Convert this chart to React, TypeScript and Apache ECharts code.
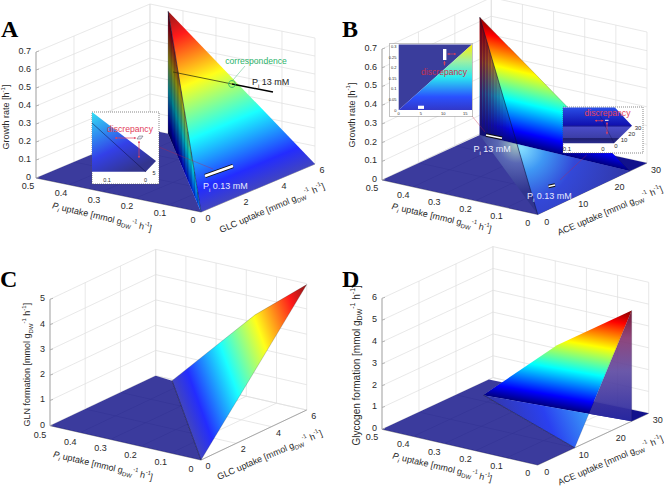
import React, { useEffect, useRef } from "react";
import * as echarts from "echarts";

// ---------- axis ticks ----------
const piTicks = [0, 0.1, 0.2, 0.3, 0.4, 0.5];
const glcTicks = [0, 2, 4, 6];
const aceTicks = [0, 10, 20, 30];
const growthTicks = [0, 0.1, 0.2, 0.3, 0.4, 0.5, 0.6, 0.7];
const glnTicks = [0, 1, 2, 3, 4, 5];
const glycogenTicks = [0, 1, 2, 3, 4, 5, 6];

// ---------- surface vertices [Pi uptake, substrate uptake, output] ----------
const aPeak = [0.445, 6, 0.68];
const aBase = [0.445, 6, 0];
const aOrigin = [0, 0, 0];
const aFar = [0, 6, 0];
const aFloor = [[0.5, 0, 0], [0.5, 6, 0], [0.445, 6, 0], [0, 0, 0]];
const aFanStops = [0, 0.1, 0.2, 0.3, 0.4, 0.5, 0.6, 0.7, 0.8, 0.9, 1];
const aFanShade = [0.55, 0.5, 0.46, 0.42, 0.36, 0.3, 0.24, 0.18, 0.12, 0.06];

const bPeak = [0.495, 26.4, 0.63];
const bBase = [0.495, 26.4, 0];
const bOrigin = [0, 0, 0];
const bFar = [0, 25.3, 0];
const bFloor = [[0.5, 0, 0], [0.495, 26.4, 0], [0, 25.3, 0], [0, 0, 0]];
const bBackStrip = [[0.495, 26.4, 0], [0.5, 30, 0], [0, 30, 0], [0, 25.3, 0]];
const bFanStops = [0, 0.08, 0.16, 0.24, 0.32, 0.4, 0.48, 0.56, 0.64, 0.72, 0.8, 0.9, 1];
const bFanAlpha = [0.95, 0.9, 0.84, 0.76, 0.68, 0.6, 0.52, 0.44, 0.36, 0.28, 0.18, 0.08];

const cFloor = [[0.5, 0, 0], [0.5, 6, 0], [0.44, 5.9, 0], [0, 0, 0]];
const cSurface = [[0, 0, 0], [0.44, 5.9, 0], [0.171, 6, 3.3], [0, 6, 4.96]];

const dQ1 = [0.44, 22.3, 0];
const dQ2 = [0.24, 25.4, 2.7];
const dQ3 = [0, 25.4, 5.07];
const dQ4 = [0, 25.4, 0];
const dQ5 = [0, 10, 0];
const dBackLeft = [0.5, 28.9, 0];
const dBackRight = [0, 30, 0];
const dFloorStart = [0.5, 0, 0];
const dOrigin = [0, 0, 0];

// ---------- inset ticks ----------
const insetBLeftY = [0, 0.05, 0.1, 0.15, 0.2, 0.25, 0.3];
const insetBLeftX = [0, 5, 10, 15];

// ---------- colours ----------
const jet: [number, string][] = [
  [0, "#00007f"], [0.11, "#0000ff"], [0.36, "#00ffff"], [0.62, "#ffff00"], [0.87, "#ff0000"], [1, "#7f0000"],
];
const jetLifted: [number, string][] = [
  [0, "#2c30b8"], [0.11, "#0a14ff"], [0.36, "#00ffff"], [0.62, "#ffff00"], [0.87, "#ff0000"], [1, "#7f0000"],
];
const wallStops: [number, string][] = [
  [0, "rgba(40,40,160,0.95)"], [0.45, "rgba(90,70,160,0.9)"], [0.75, "rgba(130,50,110,0.9)"], [1, "rgba(110,10,40,0.95)"],
];
const FONT = "'Liberation Sans', Arial, sans-serif";
const RED = "#e2405c";
const GREEN = "#2db36b";
const TXT = "#2a2a2a";
const GRID = "#dedede";
const AXIS = "#a8a8a8";
const FLOOR = "rgba(0,0,127,0.77)";

type P = number[];
interface Panel {
  o: P; xv: P; yv: P; zv: P; xm: number; ym: number; zm: number;
  xt: number[]; yt: number[]; zt: number[];
  xo: P; yo: P; zo: P;
}
const panelA: Panel = { o: [201, 212], xv: [-165, -34], yv: [114, -48], zv: [0, -126], xm: 0.5, ym: 6, zm: 0.7, xt: piTicks, yt: glcTicks, zt: growthTicks, xo: [-8, 8], yo: [7, 6], zo: [-5, -1] };
const panelB: Panel = { o: [537.7, 214.5], xv: [-155.7, -34.5], yv: [109.3, -51.5], zv: [0, -131], xm: 0.5, ym: 30, zm: 0.7, xt: piTicks, yt: aceTicks, zt: growthTicks, xo: [-10, 8], yo: [9, 7], zo: [-5, -1] };
const panelC: Panel = { o: [201, 460], xv: [-151, -34.3], yv: [105.7, -50], zv: [0, -126.4], xm: 0.5, ym: 6, zm: 5, xt: piTicks, yt: glcTicks, zt: glnTicks, xo: [-10, 9], yo: [7, 6], zo: [-5, -1] };
const panelD: Panel = { o: [537.7, 465], xv: [-155.7, -35.7], yv: [111, -51.7], zv: [0, -131], xm: 0.5, ym: 30, zm: 6, xt: piTicks, yt: aceTicks, zt: glycogenTicks, xo: [-10, 8], yo: [9, 7], zo: [-5, -1] };

const proj = (p: Panel, v: number[]): P => {
  const a = v[0] / p.xm, b = v[1] / p.ym, c = v[2] / p.zm;
  return [p.o[0] + a * p.xv[0] + b * p.yv[0] + c * p.zv[0], p.o[1] + a * p.xv[1] + b * p.yv[1] + c * p.zv[1]];
};
const lerp = (a: P, b: P, t: number): P => [a[0] + (b[0] - a[0]) * t, a[1] + (b[1] - a[1]) * t];
const meet = (a: P, b: P, c: P, d: P): P => {
  const r = [b[0] - a[0], b[1] - a[1]], s = [d[0] - c[0], d[1] - c[1]];
  const t = ((c[0] - a[0]) * s[1] - (c[1] - a[1]) * s[0]) / (r[0] * s[1] - r[1] * s[0]);
  return lerp(a, b, t);
};
const hex = (h: string) => [parseInt(h.slice(1, 3), 16), parseInt(h.slice(3, 5), 16), parseInt(h.slice(5, 7), 16)];
const blend = (h: string, mix: number, base = 255) => {
  const c = hex(h).map((v) => Math.round(v * (1 - mix) + base * mix));
  return `rgb(${c[0]},${c[1]},${c[2]})`;
};
const stops = (src: [number, string][], f: (c: string) => string) => src.map(([offset, c]) => ({ offset, color: f(c) }));
const linear = (a: P, b: P, st: any[]) => new echarts.graphic.LinearGradient(a[0], a[1], b[0], b[1], st, true as any);

// linear gradient whose isolines follow a value that is linear over a screen triangle
const planeGrad = (A: P, B: P, C: P, vals: number[], vmax: number, st: any[]) => {
  const d1 = [B[0] - A[0], B[1] - A[1]], d2 = [C[0] - A[0], C[1] - A[1]];
  const s1 = vals[1] - vals[0], s2 = vals[2] - vals[0];
  const det = d1[0] * d2[1] - d1[1] * d2[0];
  const gx = (s1 * d2[1] - s2 * d1[1]) / det, gy = (d1[0] * s2 - d2[0] * s1) / det;
  const n = gx * gx + gy * gy;
  const p0 = [A[0] + (gx * (0 - vals[0])) / n, A[1] + (gy * (0 - vals[0])) / n];
  const p1 = [A[0] + (gx * (vmax - vals[0])) / n, A[1] + (gy * (vmax - vals[0])) / n];
  return linear(p0, p1, st);
};

// ---------- element helpers ----------
type C = (p: P) => P;
const poly = (c: C, pts: P[], fill: any, extra: any = {}) => ({
  type: "polygon", silent: true, shape: { points: pts.map(c) }, style: { fill, ...extra },
});
const seg = (c: C, a: P, b: P, stroke: string, lineWidth = 0.7, extra: any = {}) => {
  const A = c(a), B = c(b);
  return { type: "line", silent: true, shape: { x1: A[0], y1: A[1], x2: B[0], y2: B[1] }, style: { stroke, lineWidth, fill: "none", ...extra } };
};
const txt = (c: C, p: P, text: string, opt: any = {}) => {
  const A = c(p);
  const { rotation, ...style } = opt;
  return {
    type: "text", silent: true, x: A[0], y: A[1], rotation: ((rotation || 0) * Math.PI) / 180,
    style: { text, fontFamily: FONT, fontSize: 9, fill: TXT, align: "center", verticalAlign: "middle", ...style },
  };
};
const richStyles = (fill: string, fs = 9) => {
  const base = { fontFamily: FONT, fill, lineHeight: fs + 4 };
  return {
    n: { ...base, fontSize: fs },
    i: { ...base, fontSize: fs, fontStyle: "italic" },
    si: { ...base, fontSize: fs - 3, fontStyle: "italic", verticalAlign: "bottom" },
    sb: { ...base, fontSize: fs - 3, verticalAlign: "bottom" },
    sp: { ...base, fontSize: fs - 3, verticalAlign: "top" },
  };
};
const rich = (c: C, p: P, text: string, opt: any = {}) => {
  const fill = opt.fill || TXT;
  return txt(c, p, text, { ...opt, rich: richStyles(fill, opt.fontSize || 9) });
};
const UNITS = "{n|[mmol g}{sb|DW}{sp|-1}{n| h}{sp|-1}{n|]}";
const piTitle = `{i|P}{si|i}{n| uptake }${UNITS}`;
const glcTitle = `{n|GLC uptake }${UNITS}`;
const aceTitle = `{n|ACE uptake }${UNITS}`;
const arrow = (c: C, a: P, b: P, col = RED) => {
  const dx = b[0] - a[0], dy = b[1] - a[1], L = Math.hypot(dx, dy), ux = dx / L, uy = dy / L, h = 2;
  const head = (q: P, s: number) => poly(c, [q, [q[0] - s * ux * h + uy * 1.1, q[1] - s * uy * h - ux * 1.1], [q[0] - s * ux * h - uy * 1.1, q[1] - s * uy * h + ux * 1.1]], col);
  return [seg(c, a, b, col, 0.7), head(a, -1), head(b, 1)];
};
const whiteBar = (c: C, a: P, b: P, w = 3.4) => [
  seg(c, a, b, "#111", w + 1, { lineCap: "butt" }),
  seg(c, a, b, "#fff", w - 1, { lineCap: "butt" }),
];

const layer = (build: (c: C) => any[]) => ({
  type: "custom", coordinateSystem: "cartesian2d", data: [[0, 0]], silent: true, clip: false,
  renderItem: (_: any, api: any) => ({ type: "group", children: build((p: P) => api.coord(p)) }),
});

// walls, floor grid, axes and tick labels of one box
const boxBack = (p: Panel) => layer((c) => {
  const out: any[] = [];
  const pt = (x: number, y: number, z: number) => proj(p, [x, y, z]);
  p.zt.forEach((z) => {
    out.push(seg(c, pt(p.xm, 0, z), pt(p.xm, p.ym, z), GRID));
    out.push(seg(c, pt(p.xm, p.ym, z), pt(0, p.ym, z), GRID));
  });
  p.yt.forEach((y) => {
    out.push(seg(c, pt(p.xm, y, 0), pt(p.xm, y, p.zm), GRID));
    out.push(seg(c, pt(0, y, 0), pt(p.xm, y, 0), GRID));
  });
  p.xt.forEach((x) => {
    out.push(seg(c, pt(x, p.ym, 0), pt(x, p.ym, p.zm), GRID));
    out.push(seg(c, pt(x, 0, 0), pt(x, p.ym, 0), GRID));
  });
  out.push(seg(c, pt(p.xm, 0, 0), pt(p.xm, 0, p.zm), AXIS, 1));
  out.push(seg(c, pt(p.xm, 0, 0), pt(0, 0, 0), AXIS, 1));
  out.push(seg(c, pt(0, 0, 0), pt(0, p.ym, 0), AXIS, 1));
  return out;
});
const boxLabels = (p: Panel, xTitle: any, yTitle: any, zTitle: any, letter: any) => layer((c) => {
  const out: any[] = [];
  const fmt = (v: number) => String(v);
  p.xt.forEach((x) => {
    const q = proj(p, [x, 0, 0]);
    out.push(txt(c, [q[0] + p.xo[0], q[1] + p.xo[1]], fmt(x)));
  });
  p.yt.forEach((y) => {
    const q = proj(p, [0, y, 0]);
    out.push(txt(c, [q[0] + p.yo[0], q[1] + p.yo[1]], fmt(y)));
  });
  p.zt.forEach((z) => {
    const q = proj(p, [p.xm, 0, z]);
    out.push(seg(c, q, [q[0] + 3, q[1] - 1], AXIS, 0.8));
    out.push(txt(c, [q[0] + p.zo[0], q[1] + p.zo[1]], fmt(z), { align: "right" }));
  });
  out.push(rich(c, xTitle.at, xTitle.text, { rotation: -13.2 }));
  out.push(rich(c, yTitle.at, yTitle.text, { rotation: 23 }));
  out.push(rich(c, zTitle.at, zTitle.text, { rotation: 90, fontSize: zTitle.fontSize || 9 }));
  out.push(txt(c, letter.at, letter.text, { fontFamily: "'Liberation Serif', 'Times New Roman', serif", fontWeight: "bold", fontSize: 24, fill: "#000", align: "left", verticalAlign: "alphabetic" }));
  return out;
});

// ---------- panel A ----------
const layersA = () => {
  const p = panelA;
  const P0 = proj(p, aPeak), B0 = proj(p, aBase), O = proj(p, aOrigin), R = proj(p, aFar);
  return [
    boxBack(p),
    layer((c) => [poly(c, aFloor.map((v) => proj(p, v)), FLOOR)]),
    layer((c) => [poly(c, [P0, O, R], planeGrad(P0, O, R, [aPeak[2], 0, 0], aPeak[2], stops(jetLifted, (k) => blend(k, 0.1))))]),
    layer((c) => {
      const wall = planeGrad(P0, B0, O, [aPeak[2], 0, 0.14], aPeak[2], stops(jet, (k) => k));
      const out: any[] = [poly(c, [P0, B0, O], wall)];
      aFanShade.forEach((sh, i) => {
        const a = lerp(B0, O, aFanStops[i]), b = lerp(B0, O, aFanStops[i + 1]);
        const ta = lerp(P0, O, aFanStops[i]), tb = lerp(P0, O, aFanStops[i + 1]);
        out.push(poly(c, [a, b, tb, ta], `rgba(0,0,30,${sh})`));
        out.push(seg(c, a, [a[0], ta[1]], "rgba(0,0,40,0.5)", 0.5));
      });
      out.push(seg(c, P0, O, "rgba(10,20,60,0.8)", 0.7));
      return out;
    }),
    layer((c) => [
      seg(c, [159, 147], [213, 169], "rgba(200,30,60,0.55)", 0.6),
      seg(c, [173, 72], [232, 84], "rgba(50,50,10,0.85)", 0.9),
      seg(c, [232, 84], [273, 92], "#000", 1.5),
      { type: "circle", silent: true, shape: (() => { const q = c([232, 84]); return { cx: q[0], cy: q[1], r: 3.4 }; })(), style: { fill: "none", stroke: GREEN, lineWidth: 0.9 } },
      seg(c, [233, 80], [245, 66], "rgba(45,179,107,0.7)", 0.6),
      txt(c, [256, 61], "correspondence", { fill: GREEN, fontSize: 8.6 }),
      rich(c, [252, 82], "{n|P}{sb|i}{n| 13 mM}", { align: "left", fill: "#222" }),
      ...whiteBar(c, [205, 176], [233, 166]),
      rich(c, [203, 186], "{n|P}{sb|i}{n| 0.13 mM}", { align: "left", fill: "#e6eaff" }),
    ]),
    layer((c) => [
      { type: "rect", silent: true, shape: (() => { const q = c([92, 112]); return { x: q[0], y: q[1], width: 67, height: 72 }; })(), style: { fill: "#fff", stroke: "#555", lineWidth: 0.7, lineDash: [1, 1] } },
      poly(c, [[92, 112], [156, 161], [145.7, 171.7], [92, 171.7]], linear([98, 112], [128, 172], [
        { offset: 0, color: "#33d6f2" }, { offset: 0.3, color: "#2f8cf0" }, { offset: 0.6, color: "#3340e8" }, { offset: 1, color: "#33358f" },
      ])),
      seg(c, [92, 123], [146, 172], "rgba(10,10,60,0.8)", 0.6),
      txt(c, [107, 180], "0.1", { fontSize: 5.5 }),
      txt(c, [145.5, 180], "0", { fontSize: 5.5 }),
      txt(c, [154, 173], "5", { fontSize: 5.5 }),
      txt(c, [130, 129], "discrepancy", { fill: RED, fontSize: 8.6 }),
      ...arrow(c, [115, 138], [136, 138]),
      ...arrow(c, [139, 141], [139, 158]),
      poly(c, [[137, 139], [139, 136], [143, 136], [141, 139]], "#dfe4f5", { stroke: "#333", lineWidth: 0.4 }),
    ]),
    boxLabels(p, { at: [102, 217], text: piTitle }, { at: [272, 208], text: glcTitle }, { at: [6, 117], text: "{n|Growth rate [h}{sp|-1}{n|]}" }, { at: [1, 17], text: "A" }),
  ];
};

// ---------- panel B ----------
const layersB = () => {
  const p = panelB;
  const P0 = proj(p, bPeak), B0 = proj(p, bBase), O = proj(p, bOrigin), R = proj(p, bFar);
  const J = meet(P0, O, B0, R);
  return [
    boxBack(p),
    layer((c) => [poly(c, bFloor.map((v) => proj(p, v)), FLOOR)]),
    layer((c) => [poly(c, bBackStrip.map((v) => proj(p, v)), "#12128c")]),
    layer((c) => [poly(c, [P0, B0, R], planeGrad(P0, B0, R, [bPeak[2], 0, 0], bPeak[2], stops(jet, (k) => k)))]),
    layer((c) => {
      const shade = (a: number) => linear(B0, P0, [
        { offset: 0, color: `rgba(18,18,110,${a})` },
        { offset: 0.35, color: `rgba(50,22,100,${a})` },
        { offset: 0.65, color: `rgba(105,16,48,${a})` },
        { offset: 1, color: `rgba(95,0,14,${a})` },
      ]);
      return bFanAlpha.map((al, i) => {
        const f0 = bFanStops[i], f1 = bFanStops[i + 1];
        return poly(c, [lerp(P0, J, f0), lerp(B0, J, f0), lerp(B0, J, f1), lerp(P0, J, f1)], shade(al));
      });
    }),
    layer((c) => [
      poly(c, [B0, J, O], new echarts.graphic.RadialGradient(J[0], J[1], 48, [
        { offset: 0, color: "#a8ccc4" }, { offset: 0.4, color: "#5a68b4" }, { offset: 1, color: "#30348f" },
      ], true as any)),
      poly(c, [J, O, R], new echarts.graphic.RadialGradient(J[0] + 4, J[1] + 4, 110, [
        { offset: 0, color: "#86e0ff" }, { offset: 0.22, color: "#3f98f4" }, { offset: 0.5, color: "#3348d8" }, { offset: 1, color: "#3238a8" },
      ], true as any)),
      seg(c, P0, O, "rgba(10,20,60,0.8)", 0.7),
      seg(c, P0, R, "rgba(40,40,20,0.5)", 0.4),
      seg(c, B0, J, "rgba(10,10,60,0.4)", 0.4),
      seg(c, [472, 116], [485, 132], "rgba(200,30,60,0.55)", 0.6),
      seg(c, [586.7, 155], [560, 180], "rgba(200,30,60,0.55)", 0.6),
      ...whiteBar(c, [486, 135], [502, 138.3], 2.6),
      rich(c, [473.5, 149], "{n|P}{sb|i}{n| 13 mM}", { align: "left", fill: "#eef0ff" }),
      ...whiteBar(c, [548.5, 186.5], [555, 185], 2.6),
      rich(c, [527, 196], "{n|P}{sb|i}{n| 0.13 mM}", { align: "left", fill: "#e6eaff" }),
    ]),
    // left inset: measured rate against substrate and Pi uptake
    layer((c) => {
      const L = 398.7, Bt = 110, W = 73.3, H = 63.3;
      const at = (x: number, y: number): P => [L + (x / 16.5) * W * 1, Bt - (y / 0.3) * H];
      const out: any[] = [
        { type: "rect", silent: true, shape: (() => { const q = c([389.5, 43.5]); return { x: q[0], y: q[1], width: 83, height: 73 }; })(), style: { fill: "#fff", stroke: "#555", lineWidth: 0.7, lineDash: [1, 1] } },
        poly(c, [at(0, 0), at(0, 0.31), at(16.5, 0.31)], "#3a3d9c"),
        poly(c, [at(0, 0), at(16.5, 0.31), at(16.5, 0)], linear(at(8, 0), at(8, 0.31), [
          { offset: 0, color: "#3238c8" }, { offset: 0.2, color: "#2a50ff" }, { offset: 0.5, color: "#2ae8f0" }, { offset: 0.75, color: "#a0f0a0" }, { offset: 1, color: "#fff000" },
        ])),
      ];
      insetBLeftY.forEach((y) => out.push(txt(c, [396.5, at(0, y)[1]], String(y), { fontSize: 4, align: "right" })));
      insetBLeftX.forEach((x) => out.push(txt(c, [at(x, 0)[0], 113], String(x), { fontSize: 4 })));
      out.push({ type: "rect", silent: true, shape: (() => { const q = c([443, 49]); return { x: q[0], y: q[1], width: 3.4, height: 11 }; })(), style: { fill: "#fff" } });
      out.push({ type: "rect", silent: true, shape: (() => { const q = c([418, 105.7]); return { x: q[0], y: q[1], width: 6, height: 3.2 }; })(), style: { fill: "#fff" } });
      out.push(...arrow(c, [447.5, 54], [456, 54]));
      out.push(...arrow(c, [444.5, 61], [444.5, 65.5]));
      out.push(txt(c, [444, 72], "discrepancy", { fill: "#c8304f", fontSize: 8.6 }));
      return out;
    }),
    // right inset
    layer((c) => [
      { type: "rect", silent: true, shape: (() => { const q = c([563, 107]); return { x: q[0], y: q[1], width: 80, height: 46 }; })(), style: { fill: "#fff", stroke: "#555", lineWidth: 0.7, lineDash: [1, 1] } },
      poly(c, [[563, 107.5], [615, 107.5], [632, 125.7], [614, 143.3], [563, 143.3]], linear([570, 107], [570, 143.3], [
        { offset: 0, color: "#2a50e8" }, { offset: 0.5, color: "#1010b0" }, { offset: 0.52, color: "#1a1a90" }, { offset: 0.56, color: "#4a4cc8" }, { offset: 0.84, color: "#3c3ea8" }, { offset: 0.87, color: "#1f1f70" }, { offset: 1, color: "#2a2c90" },
      ])),
      seg(c, [598, 112], [614, 143], "rgba(10,10,60,0.6)", 0.5),
      txt(c, [567, 149], "0.1", { fontSize: 6 }),
      txt(c, [603, 149], "0", { fontSize: 6 }),
      txt(c, [616, 146], "0", { fontSize: 6 }),
      txt(c, [624, 140], "10", { fontSize: 6 }),
      txt(c, [631.7, 133.5], "20", { fontSize: 6 }),
      txt(c, [638, 127.5], "30", { fontSize: 6 }),
      txt(c, [607.5, 113], "discrepancy", { fill: RED, fontSize: 8.6 }),
      ...arrow(c, [595, 120.7], [603.3, 120.7]),
      ...arrow(c, [607, 122.3], [607, 134.3]),
      seg(c, [605, 120.3], [608.5, 120.3], "#fff", 1),
    ]),
    boxLabels(p, { at: [441.7, 217.7], text: piTitle }, { at: [610, 210.7], text: aceTitle }, { at: [351.5, 115], text: "{n|Growth rate [h}{sp|-1}{n|]}" }, { at: [342, 17], text: "B" }),
  ];
};

// ---------- panel C ----------
const layersC = () => {
  const p = panelC;
  const pts = cSurface.map((v) => proj(p, v));
  return [
    boxBack(p),
    layer((c) => [poly(c, cFloor.map((v) => proj(p, v)), FLOOR)]),
    layer((c) => [
      poly(c, pts, planeGrad(pts[0], pts[1], pts[3], [0, 0, cSurface[3][2]], cSurface[3][2], stops(jetLifted, (k) => blend(k, 0.1)))),
      seg(c, pts[0], pts[1], "rgba(10,10,50,0.85)", 0.7),
      seg(c, pts[1], pts[2], "rgba(30,40,40,0.5)", 0.4),
      seg(c, pts[2], pts[3], "rgba(30,40,40,0.5)", 0.4),
      seg(c, pts[3], pts[0], "rgba(30,40,40,0.5)", 0.4),
    ]),
    boxLabels(p, { at: [103, 465.7], text: piTitle }, { at: [269.7, 455], text: glcTitle }, { at: [27, 364.7], text: `{n|GLN formation }${UNITS}` }, { at: [0, 267], text: "C" }),
  ];
};

// ---------- panel D ----------
const layersD = () => {
  const p = panelD;
  const Q1 = proj(p, dQ1), Q2 = proj(p, dQ2), Q3 = proj(p, dQ3), Q4 = proj(p, dQ4), Q5 = proj(p, dQ5);
  const BL = proj(p, dBackLeft), BR = proj(p, dBackRight);
  const M = meet(Q1, Q2, BL, BR);
  const X = meet(Q1, Q4, Q3, Q5);
  return [
    boxBack(p),
    layer((c) => [poly(c, [proj(p, dFloorStart), BL, M, Q1, Q5, proj(p, dOrigin)], FLOOR)]),
    layer((c) => [poly(c, [M, BR, Q4, Q1], "#12128c")]),
    layer((c) => [
      poly(c, [Q3, Q4, X], linear(Q4, Q3, stops(wallStops, (k) => k))),
      poly(c, [Q1, Q2, Q3, X], planeGrad(Q1, Q4, Q3, [0, 0, dQ3[2]], dQ3[2], stops(jet, (k) => k))),
      poly(c, [Q1, X, Q5], linear([Q1[0] + 30, Q5[1]], [X[0] + 2, X[1]], [
        { offset: 0, color: "#3338b0" }, { offset: 0.5, color: "#2a40f0" }, { offset: 1, color: "#3aa0f8" },
      ])),
      seg(c, Q1, Q5, "rgba(10,10,50,0.85)", 0.7),
      seg(c, Q3, Q5, "rgba(30,30,60,0.4)", 0.4),
      seg(c, Q3, Q4, "rgba(30,30,60,0.4)", 0.4),
    ]),
    boxLabels(p, { at: [442.3, 467.3], text: piTitle }, { at: [610.5, 460.5], text: aceTitle }, { at: [356.3, 365.3], text: `{n|Glycogen formation }${UNITS}`, fontSize: 10 }, { at: [342, 267], text: "D" }),
  ];
};

export default function App() {
  const ref = useRef<HTMLDivElement>(null);
  useEffect(() => {
    const chart = echarts.init(ref.current!, undefined, { renderer: "svg" });
    chart.setOption({
      animation: false,
      backgroundColor: "#fff",
      grid: { left: 0, right: 0, top: 0, bottom: 0 },
      xAxis: { type: "value", min: 0, max: 664, show: false },
      yAxis: { type: "value", min: 0, max: 495, inverse: true, show: false },
      series: [...layersA(), ...layersB(), ...layersC(), ...layersD()],
    });
    return () => chart.dispose();
  }, []);
  return <div ref={ref} style={{ position: "absolute", left: 0, top: 0, width: 664, height: 495 }} />;
}
